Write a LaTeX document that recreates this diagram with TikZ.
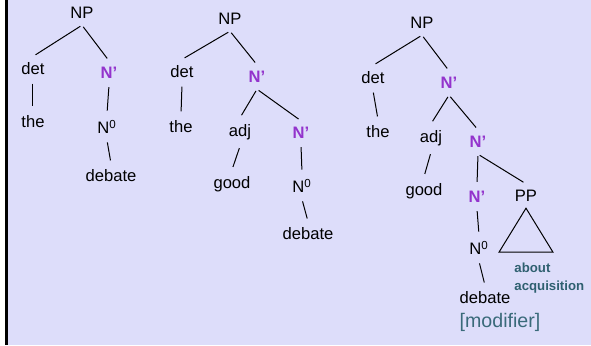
\documentclass[tikz,border=0pt]{standalone}
\usepackage{fontspec}
\setmainfont{Liberation Sans}
\usetikzlibrary{positioning}
\definecolor{bgblue}{HTML}{DDDDFA}
\definecolor{barpurple}{HTML}{9333CC}
\definecolor{glossteal}{HTML}{2F6070}
\definecolor{noteteal}{HTML}{3A6A7A}

\begin{document}
\begin{tikzpicture}
  [
  x=0.5pt, y=-0.5pt,
  font=\fontsize{8.3}{10}\selectfont, line width=0.5pt,
  word/.style={inner sep=3pt},
  bar/.style={word, text=barpurple, font=\fontsize{8.3}{10}\selectfont\bfseries},
  branch/.style={shorten >=1.5pt, shorten <=1pt},
  ]
  \useasboundingbox (0,0) rectangle (591,345);
  \fill[white] (0,0) rectangle (591,345);
  \fill[bgblue] (8,0) rectangle (591,345);
  \draw[line width=1.5pt] (6.5,0) -- (6.5,345);

  % the debate
  \node[word] (np1) at (82,13) {NP};
  \node[word] (det1) at (33,69) {det};
  \node[bar] (nb1) at (109,73) {N’};
  \node[word] (the1) at (33,122) {the};
  \node[word] (nz1) at (107,127) {N\textsuperscript{0}};
  \node[word] (deb1) at (111,176) {debate};
  \draw[branch] (np1.south) -- (det1.north);
  \draw[branch] (np1.south) -- (nb1.north);
  \draw[branch] (det1.south) -- (the1.north);
  \draw[branch] (nb1.south) -- (nz1.north);
  \draw[branch] (nz1.south) -- (deb1.north);

  % the good debate
  \node[word] (np2) at (230,19) {NP};
  \node[word] (det2) at (182,72) {det};
  \node[bar] (nb2) at (257,77) {N’};
  \node[word] (the2) at (181,127) {the};
  \node[word] (adj2) at (240,132) {adj};
  \node[bar] (nc2) at (301,133) {N’};
  \node[word] (good2) at (232,184) {good};
  \node[word] (nz2) at (302,186) {N\textsuperscript{0}};
  \node[word] (deb2) at (308,234) {debate};
  \draw[branch] (np2.south) -- (det2.north);
  \draw[branch] (np2.south) -- (nb2.north);
  \draw[branch] (det2.south) -- (the2.north);
  \draw[branch] (nb2.south) -- (adj2.north);
  \draw[branch] (nb2.south) -- (nc2.north);
  \draw[branch] (adj2.south) -- (good2.north);
  \draw[branch] (nc2.south) -- (nz2.north);
  \draw[branch] (nz2.south) -- (deb2.north);

  % the good debate about acquisition
  \node[word] (np3) at (422,23) {NP};
  \node[word] (det3) at (373,78) {det};
  \node[bar] (nb3) at (449,83) {N’};
  \node[word] (the3) at (378,132) {the};
  \node[word] (adj3) at (431,138) {adj};
  \node[bar] (nc3) at (478,142) {N’};
  \node[word] (good3) at (424,191) {good};
  \node[bar] (nd3) at (477,197) {N’};
  \node[word] (pp3) at (526,196) {PP};
  \node[word] (nz3) at (479,248) {N\textsuperscript{0}};
  \node[word] (deb3) at (485,298) {debate};
  \draw[branch] (np3.south) -- (det3.north);
  \draw[branch] (np3.south) -- (nb3.north);
  \draw[branch] (det3.south) -- (the3.north);
  \draw[branch] (nb3.south) -- (adj3.north);
  \draw[branch] (nb3.south) -- (nc3.north);
  \draw[branch] (adj3.south) -- (good3.north);
  \draw[branch] (nc3.south) -- (nd3.north);
  \draw[branch] (nc3.south) -- (pp3.north);
  \draw[branch] (nd3.south) -- (nz3.north);
  \draw[branch] (nz3.south) -- (deb3.north);
  \draw (pp3.south) -- ++(-27,44) -- ++(54,0) -- cycle;

  \node[anchor=west, align=left, inner sep=0pt, text=glossteal,
    font=\fontsize{6.6}{9}\selectfont\bfseries] (gloss3) at (514,278)
    {about\\acquisition};
  \node[text=noteteal, inner sep=0pt, font=\fontsize{9.8}{12}\selectfont]
    (note3) at (500,322) {[modifier]};
\end{tikzpicture}
\end{document}
